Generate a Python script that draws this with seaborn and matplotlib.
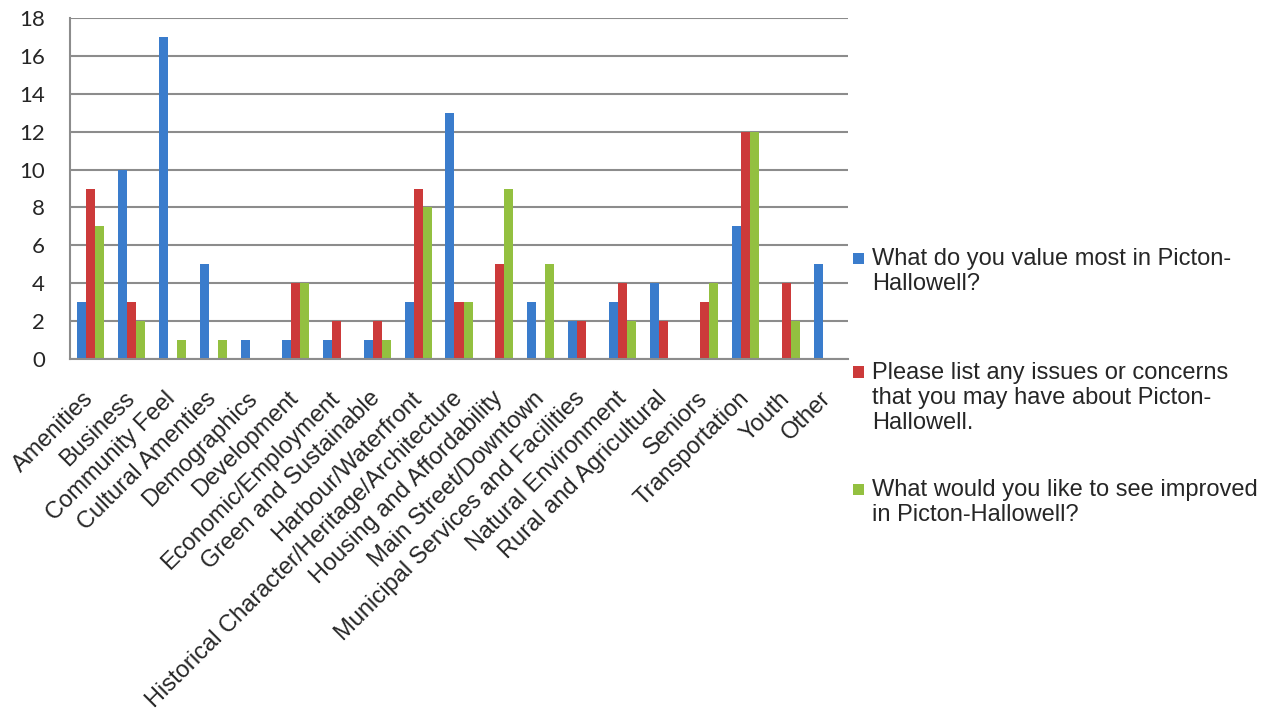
import matplotlib
matplotlib.use("Agg")
import matplotlib.pyplot as plt
import seaborn as sns
import pandas as pd
from matplotlib.patches import Patch, Rectangle
from matplotlib.legend_handler import HandlerBase
from matplotlib.font_manager import FontProperties

categories = ["Amenities", "Business", "Community Feel", "Cultural Amenties", "Demographics",
              "Development", "Economic/Employment", "Green and Sustainable", "Harbour/Waterfront",
              "Historical Character/Heritage/Architecture", "Housing and Affordability",
              "Main Street/Downtown", "Municipal Services and Facilities", "Natural Environment",
              "Rural and Agricultural", "Seniors", "Transportation", "Youth", "Other"]
value_most = [3, 10, 17, 5, 1, 1, 1, 1, 3, 13, 0, 3, 2, 3, 4, 0, 7, 0, 5]
issues = [9, 3, 0, 0, 0, 4, 2, 2, 9, 3, 5, 0, 2, 4, 2, 3, 12, 4, 0]
improved = [7, 2, 1, 1, 0, 4, 0, 1, 8, 3, 9, 5, 0, 2, 0, 4, 12, 2, 0]
series_names = ["What do you value most in Picton-\nHallowell?",
                "Please list any issues or concerns\nthat you may have about Picton-\nHallowell.",
                "What would you like to see improved\nin Picton-Hallowell?"]
colors = ["#3a7ccc", "#cc3a3a", "#93c040"]

rows = []
for vals, name in zip([value_most, issues, improved], series_names):
    for c, v in zip(categories, vals):
        rows.append({"cat": c, "val": v, "series": name})
df = pd.DataFrame(rows)

sns.set_style("white")
plt.rcParams['font.family'] = ['Liberation Sans', 'DejaVu Sans']

FS = 17
fig = plt.figure(figsize=(12.8, 7.15), dpi=100)
ax = fig.add_axes([70/1280, 1-359/715, (848-70)/1280, (359-18)/715])

sns.barplot(data=df, x="cat", y="val", hue="series", palette=colors, ax=ax,
            width=0.66, gap=0, legend=False, saturation=1, errorbar=None, linewidth=0)

ax.set_ylim(0, 18)
ax.set_xlim(-0.5, len(categories) - 0.5)
ax.set_yticks(range(0, 19, 2))
ax.yaxis.grid(True, color="#8c8c8c", linewidth=1.5)
ax.set_axisbelow(True)
ax.set_xlabel("")
ax.set_ylabel("")

for s in ["top", "right"]:
    ax.spines[s].set_visible(False)
for s in ["left", "bottom"]:
    ax.spines[s].set_color("#8c8c8c")
    ax.spines[s].set_linewidth(1.5)

ax.set_xticks(range(len(categories)))
ax.set_xticklabels(categories, rotation=45, ha="right", va="center", rotation_mode="anchor")
ax.tick_params(axis="x", length=0, pad=26)
ax.set_xticks([i - 0.5 for i in range(len(categories) + 1)], minor=True)
ax.tick_params(axis="x", which="minor", length=6, width=1.5, color="#8c8c8c", direction="out")
ax.tick_params(axis="y", length=6, width=1.5, color="#8c8c8c", direction="out", pad=12)

for lbl in ax.get_xticklabels():
    lbl.set_fontproperties(FontProperties(family=["Liberation Sans", "DejaVu Sans"], size=FS))
for lbl in ax.get_yticklabels():
    lbl.set_fontproperties(FontProperties(family=["Lato", "DejaVu Sans"], size=16))


class TopSquare(HandlerBase):
    def __init__(self, nlines, pitch):
        super().__init__()
        self.nlines = nlines
        self.pitch = pitch

    def create_artists(self, legend, orig_handle, xdescent, ydescent, width, height, fontsize, trans):
        size = 0.48 * fontsize
        y = -ydescent + height / 2 - size / 2 + (self.nlines - 1) / 2 * self.pitch
        r = Rectangle((-xdescent, y), size, size, facecolor=orig_handle.get_facecolor(),
                      edgecolor="none", transform=trans)
        return [r]


pitch = 19.0
tops = [248, 362, 479]
handles = [Patch(facecolor=c, edgecolor="none") for c in colors]
for h, name, top in zip(handles, series_names, tops):
    leg = fig.legend([h], [name], loc="upper left", bbox_to_anchor=(853/1280, 1-top/715),
                     frameon=False, fontsize=FS, handlelength=0.55, handleheight=0.6,
                     handletextpad=0.25, borderaxespad=0, borderpad=0,
                     handler_map={h: TopSquare(name.count("\n") + 1, pitch)})
    for t in leg.get_texts():
        t.set_linespacing(1.18)

fig.savefig("out.png", dpi=100)
